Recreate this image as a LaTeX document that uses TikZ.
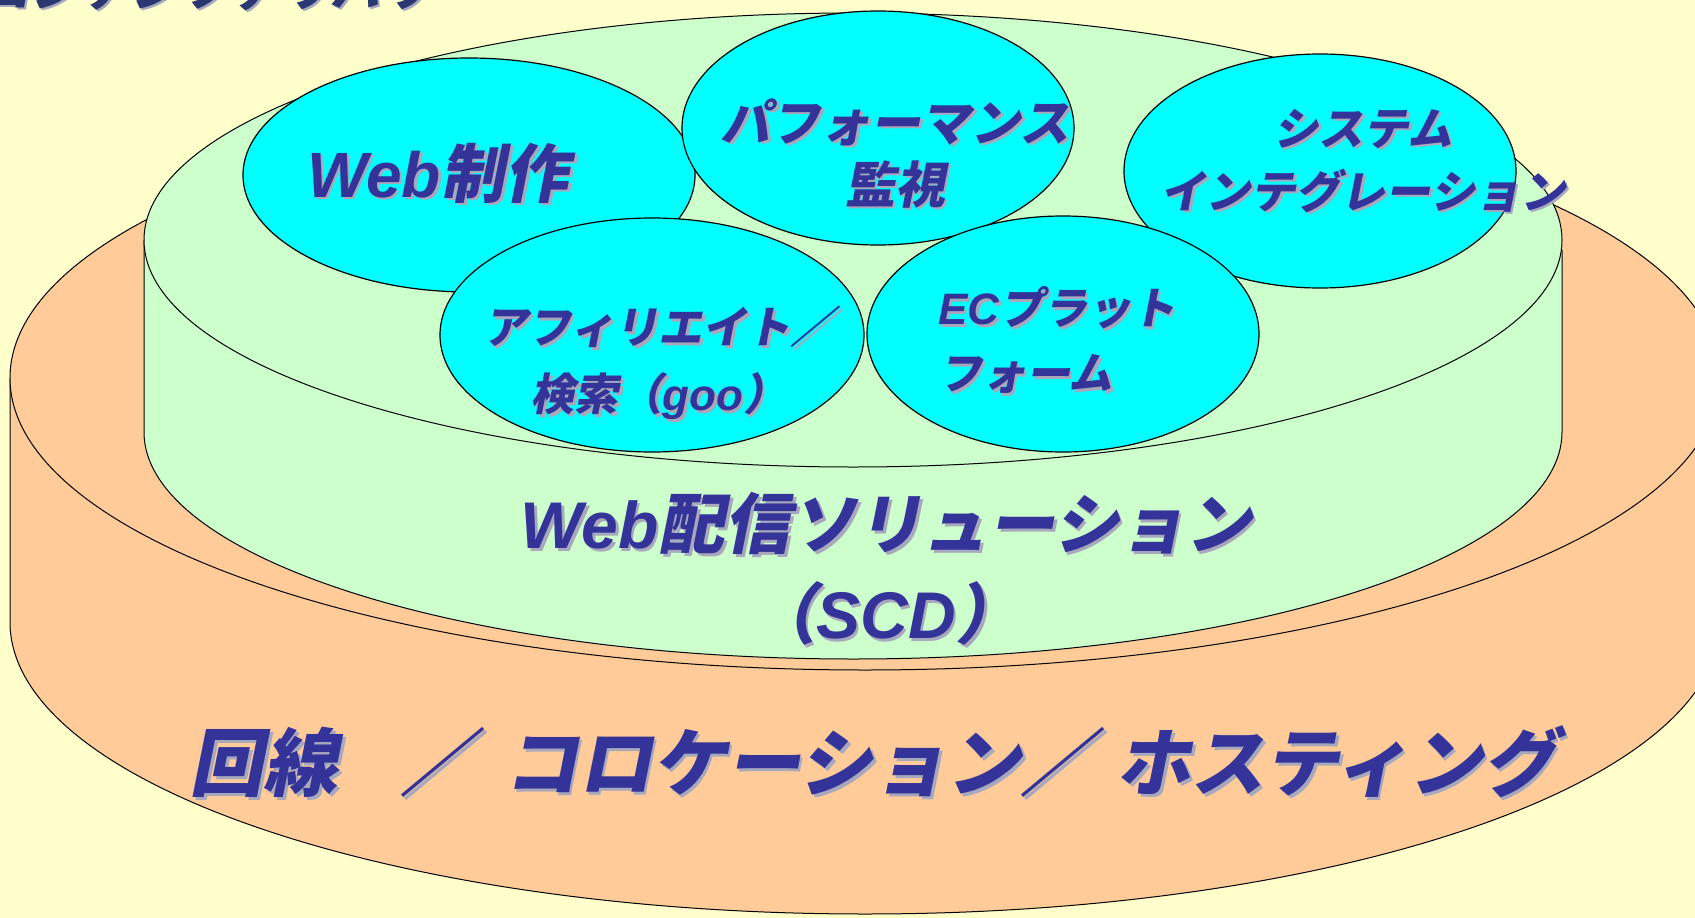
\documentclass[tikz,border=0pt]{standalone}
\usepackage{fontspec}
\usetikzlibrary{shapes.geometric,calc}
\newfontfamily\jpf[FakeSlant=0.2]{Noto Sans CJK JP}
\newfontfamily\latf{Liberation Sans}
\definecolor{bgc}{HTML}{FFFFCC}
\definecolor{orangec}{HTML}{FFCC99}
\definecolor{greenc}{HTML}{CCFFCC}
\definecolor{cyanc}{HTML}{00FFFF}
\definecolor{txtc}{HTML}{333399}
\definecolor{shdc}{HTML}{A8A8BC}
\definecolor{titlec}{HTML}{2B3770}
\newcommand{\lt}[1]{{\latf\bfseries\itshape #1}}
\newcommand{\stxt}[7][center]{%
  \node[txtbase, anchor=#1, align=#2, text=shdc, font={\jpf\bfseries\fontsize{#5}{#6}\selectfont}] (#3-s) at ($(#4)+(2.5,2.5)$) {#7};
  \node[txtbase, anchor=#1, align=#2, text=txtc, font={\jpf\bfseries\fontsize{#5}{#6}\selectfont}] (#3) at (#4) {#7};}
\begin{document}
\begin{tikzpicture}[x=1pt,y=-1pt,
  txtbase/.style={inner sep=0pt},
  bubble/.style={ellipse, draw=black, line width=1.2pt, fill=cyanc, inner sep=0pt},
  edge/.style={draw=black, line width=1pt}]
\useasboundingbox (0,0) rectangle (1695,918);
\fill[bgc] (0,0) rectangle (1695,918);
% title (cut off at top)
\node[anchor=base west, inner sep=0pt, text=shdc, font={\jpf\bfseries\fontsize{50}{56}\selectfont}] (title-s) at (-18,8.5) {コンテンツデリバリ};
\node[anchor=base west, inner sep=0pt, text=titlec, font={\jpf\bfseries\fontsize{50}{56}\selectfont}] (title) at (-20,6) {コンテンツデリバリ};
% orange cylinder
\fill[orangec] (10,378) -- (10,622) arc[start angle=180, end angle=0, x radius=855, y radius=292] -- (1720,378) arc[start angle=0, end angle=-180, x radius=855, y radius=292] -- cycle;
\draw[edge] (10,378) -- (10,622) arc[start angle=180, end angle=0, x radius=855, y radius=292] -- (1720,378);
\filldraw[edge, fill=orangec] (865,378) ellipse[x radius=855, y radius=292];
% green cylinder
\fill[greenc] (144,240) -- (144,432) arc[start angle=180, end angle=0, x radius=709, y radius=227] -- (1562,240) arc[start angle=0, end angle=-180, x radius=709, y radius=227] -- cycle;
\draw[edge] (144,240) -- (144,432) arc[start angle=180, end angle=0, x radius=709, y radius=227] -- (1562,250);
\filldraw[edge, fill=greenc] (853,240) ellipse[x radius=709, y radius=227];
% bubbles
\node[bubble, minimum width=452pt, minimum height=234pt] (web) at (469,175) {};
\node[bubble, minimum width=392pt, minimum height=234pt] (perf) at (878,128) {};
\node[bubble, minimum width=392pt, minimum height=234pt] (sys) at (1320,171) {};
\node[bubble, minimum width=424pt, minimum height=234pt] (aff) at (652,335) {};
\node[bubble, minimum width=392pt, minimum height=236pt] (ec) at (1063,334) {};
% labels
\stxt{center}{tweb}{438,173}{64}{70}{\lt{Web}制作}
\stxt{center}{tperf}{895,153}{50}{62}{パフォーマンス\\監視}
\stxt{center}{tsys}{1363,161}{45}{63}{システム\\インテグレーション}
\stxt{center}{taff}{659,363}{44}{67}{アフィリエイト／\\検索（\lt{goo}）}
\stxt[west]{left}{tec}{938,340}{44}{65}{\lt{EC}プラット\\フォーム}
\stxt{center}{tscd}{886,569}{66}{90}{\lt{Web}配信ソリューション\\（\lt{SCD}）}
\stxt{center}{tline}{873,762}{74}{80}{回線\hspace{0.85em}／\hspace{0.4em}コロケーション／\hspace{0.3em}ホスティング}
\end{tikzpicture}
\end{document}
